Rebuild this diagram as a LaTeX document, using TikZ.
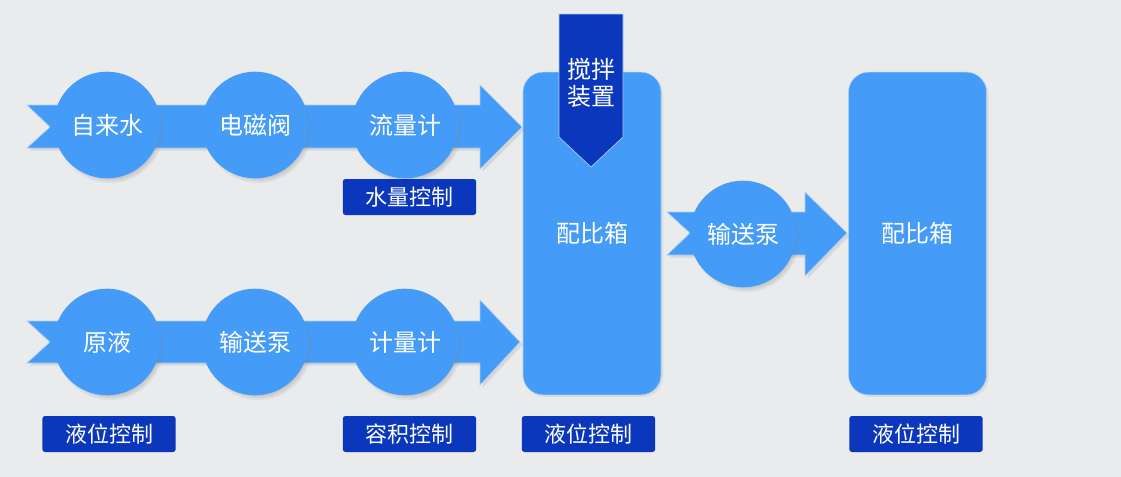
\documentclass[tikz,border=0pt]{standalone}
\usepackage{fontspec}
\setmainfont{Noto Sans CJK SC}
\usetikzlibrary{shadows}
\definecolor{lb}{RGB}{69,156,248}
\definecolor{db}{RGB}{11,55,189}
\definecolor{bg}{RGB}{234,235,237}
\definecolor{edge}{RGB}{170,205,245}
\begin{document}
\begin{tikzpicture}[x=0.75pt,y=-0.75pt,
  band/.style={fill=lb, draw=edge, line width=0.5pt,
    drop shadow={shadow xshift=2pt, shadow yshift=-2pt, opacity=0.18}},
  ball/.style={circle, fill=lb, minimum size=80pt, inner sep=0pt, text=white,
    font=\fontsize{18}{20}\selectfont,
    circular drop shadow={shadow xshift=2pt, shadow yshift=-3pt, shadow scale=1.02, opacity=0.45}},
  tank/.style={rectangle, rounded corners=15pt, fill=lb, draw=edge, line width=0.4pt,
    minimum width=103.5pt, minimum height=242pt, inner sep=0pt, text=white,
    font=\fontsize{18}{20}\selectfont,
    drop shadow={shadow xshift=1.5pt, shadow yshift=-1.5pt, opacity=0.15}},
  tag/.style={rectangle, rounded corners=2pt, fill=db, minimum width=100pt,
    minimum height=27pt, inner sep=0pt, text=white, font=\fontsize{16.5}{18}\selectfont},
  stir/.style={fill=db, draw=edge, line width=0.5pt}
]
\useasboundingbox (0,0) rectangle (1121,476);
\fill[bg] (-20,-20) rectangle (1141,496);

% tanks
\node[tank] (tank1) at (592,233.5) {配比箱};
\node[tank] (tank2) at (917.5,233.5) {配比箱};

% stirring device
\path[stir] (559,14) -- (623,14) -- (623,137) -- (591,167) -- (559,137) -- cycle;
\node[text=white, align=center, font=\fontsize{18}{20.5}\selectfont] (stirtxt) at (591,83) {搅拌\\装置};

% top band arrow
\path[band] (27,105) -- (480,105) -- (480,85) -- (522,127) -- (480,169) -- (480,148) -- (27,148) -- (50,127) -- cycle;
% bottom band arrow
\path[band] (27,321) -- (480,321) -- (480,300) -- (520,342) -- (480,385) -- (480,363) -- (27,363) -- (50,342) -- cycle;
% middle band arrow
\path[band] (667,212) -- (805,212) -- (805,192) -- (847,233) -- (805,276) -- (805,255) -- (667,255) -- (690,233) -- cycle;

% circles
\node[ball] (tap)   at (107,125) {自来水};
\node[ball] (valve) at (255,125) {电磁阀};
\node[ball] (flow)  at (405,125) {流量计};
\node[ball] (raw)   at (107,342) {原液};
\node[ball] (pump1) at (255,342) {输送泵};
\node[ball] (meter) at (405,342) {计量计};
\node[ball] (pump2) at (743,234) {输送泵};

% tags
\node[tag] (t1) at (409.5,197) {水量控制};
\node[tag] (t2) at (109,434) {液位控制};
\node[tag] (t3) at (409.5,434) {容积控制};
\node[tag] (t4) at (588.5,434) {液位控制};
\node[tag] (t5) at (916,434) {液位控制};
\end{tikzpicture}
\end{document}
